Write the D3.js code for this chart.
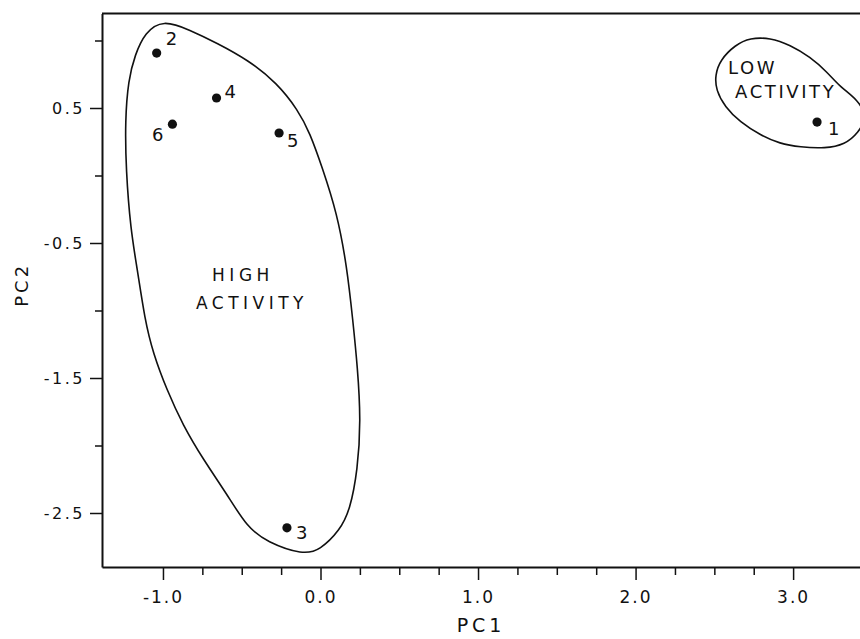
<!DOCTYPE html>
<html>
<head>
<meta charset="utf-8">
<script src="https://cdn.jsdelivr.net/npm/d3@7"></script>
<style>
    body { margin: 0; background: #fff; }
    text { font-family: "DejaVu Sans", sans-serif; fill: #111; }
</style>
</head>
<body>
<div id="chart"></div>
<script>
// sample scores on the first two principal components
var sample_ids = [1, 2, 3, 4, 5, 6];
var pc1_values = [3.152, -1.04, -0.213, -0.66, -0.263, -0.94];
var pc2_values = [0.396, 0.907, -2.61, 0.574, 0.315, 0.38];

var x_ticks = d3.range(-1, 3.001, 0.25);
var y_ticks = [1.0, 0.5, 0.0, -0.5, -1.0, -1.5, -2.0, -2.5];
var x_labelled = [-1, 0, 1, 2, 3];
var y_labelled = [0.5, -0.5, -1.5, -2.5];

// hand drawn group outlines, in PC units
var high_outline = [
    [-1.0, 1.155], [-0.829, 1.078], [-0.657, 0.981], [-0.46, 0.856], [-0.276, 0.685],
    [-0.143, 0.485], [-0.067, 0.315], [0.01, 0.063], [0.105, -0.278], [0.168, -0.678],
    [0.205, -1.07], [0.235, -1.42], [0.256, -1.811], [0.236, -2.181], [0.187, -2.478],
    [0.124, -2.626], [-0.003, -2.775], [-0.111, -2.81], [-0.34, -2.715], [-0.467, -2.604],
    [-0.594, -2.36], [-0.746, -2.1], [-0.873, -1.85], [-0.975, -1.59], [-1.063, -1.315],
    [-1.115, -1.07], [-1.165, -0.678], [-1.205, -0.404], [-1.235, 0.041], [-1.24, 0.411],
    [-1.22, 0.707], [-1.178, 0.893], [-1.114, 1.06]
];
var low_outline = [
    [2.505, 0.744], [2.537, 0.856], [2.632, 0.967], [2.727, 1.02], [2.854, 1.02],
    [2.981, 0.967], [3.108, 0.878], [3.216, 0.767], [3.298, 0.656], [3.413, 0.559],
    [3.47, 0.433], [3.413, 0.315], [3.33, 0.23], [3.203, 0.2], [3.044, 0.21],
    [2.917, 0.235], [2.79, 0.3], [2.663, 0.396], [2.568, 0.507], [2.51, 0.633]
];

var group_names = [["HIGH", "ACTIVITY"], ["LOW", "ACTIVITY"]];
var group_anchor = [[-0.435, -0.78], [2.587, 0.752]];

// label placement next to each dot, pixels
var label_offset = {
    1: { dx: 11, dy: 13, anchor: "start" },
    2: { dx: 9, dy: -8, anchor: "start" },
    3: { dx: 9, dy: 11, anchor: "start" },
    4: { dx: 8, dy: 0, anchor: "start" },
    5: { dx: 8, dy: 14, anchor: "start" },
    6: { dx: -9, dy: 17, anchor: "end" }
};

function draw_chart() {
    var width = 860;
    var height = 639;

    var x_scale = d3.scaleLinear()
        .domain([-1.387, 3.45])
        .range([102, 864]);
    var y_scale = d3.scaleLinear()
        .domain([-2.9, 1.2])
        .range([567, 13.5]);

    var fmt = function (d) { return d3.format(".1f")(d).replace("\u2212", "-"); };

    var svg = d3.select("#chart")
        .append("svg")
        .attr("width", width)
        .attr("height", height);

    // top frame line
    svg.append("line")
        .attr("x1", x_scale.range()[0])
        .attr("x2", x_scale.range()[1])
        .attr("y1", y_scale.range()[1])
        .attr("y2", y_scale.range()[1])
        .attr("stroke", "#111")
        .attr("stroke-width", 2);

    var x_axis = svg.append("g")
        .attr("transform", "translate(0," + y_scale.range()[0] + ")")
        .call(d3.axisBottom(x_scale)
            .tickValues(x_ticks)
            .tickSize(13)
            .tickSizeOuter(0)
            .tickPadding(11)
            .tickFormat(function (d) { return x_labelled.indexOf(d) >= 0 ? fmt(d) : ""; }));
    x_axis.selectAll(".tick")
        .filter(function (d) { return x_labelled.indexOf(d) < 0; })
        .select("line").attr("y2", 8);
    x_axis.selectAll(".tick text")
        .style("font-size", "17px")
        .style("letter-spacing", "2px")
        .style("font-family", "DejaVu Sans");

    var y_axis = svg.append("g")
        .attr("transform", "translate(" + x_scale.range()[0] + ",0)")
        .call(d3.axisLeft(y_scale)
            .tickValues(y_ticks)
            .tickSize(12)
            .tickSizeOuter(0)
            .tickPadding(5)
            .tickFormat(function (d) { return y_labelled.indexOf(d) >= 0 ? fmt(d) : ""; }));
    y_axis.selectAll(".tick")
        .filter(function (d) { return y_labelled.indexOf(d) < 0; })
        .select("line").attr("x2", -7);
    y_axis.selectAll(".tick text")
        .style("font-size", "16px")
        .style("letter-spacing", "2.5px")
        .style("font-family", "DejaVu Sans");

    svg.selectAll(".domain").attr("stroke", "#111").attr("stroke-width", 2);
    svg.selectAll(".tick line").attr("stroke", "#111").attr("stroke-width", 1.5);

    // axis titles
    svg.append("text")
        .text("PC1")
        .attr("x", x_scale(1.0) + 3)
        .attr("y", 632)
        .attr("text-anchor", "middle")
        .style("font-size", "19px")
        .style("letter-spacing", "4px");
    svg.append("text")
        .text("PC2")
        .attr("transform", "translate(28," + y_scale(-0.81) + ") rotate(-90)")
        .attr("text-anchor", "middle")
        .style("font-size", "18px")
        .style("letter-spacing", "3px");

    // group outlines
    var outline = d3.line()
        .x(function (d) { return x_scale(d[0]); })
        .y(function (d) { return y_scale(d[1]); })
        .curve(d3.curveBasisClosed);
    svg.selectAll(".outline").data([high_outline, low_outline])
        .enter().append("path")
        .attr("class", "outline")
        .attr("d", outline)
        .attr("fill", "none")
        .attr("stroke", "#111")
        .attr("stroke-width", 1.6);

    // group names
    var name_style = [
        { size: 17, spacing: 4.5, anchor: "middle", indent: [-9, 0], gap: 28 },
        { size: 18, spacing: 2.6, anchor: "start", indent: [0, 7], gap: 24 }
    ];
    group_names.forEach(function (lines, gi) {
        var st = name_style[gi];
        lines.forEach(function (ln, li) {
            svg.append("text")
                .text(ln)
                .attr("x", x_scale(group_anchor[gi][0]) + st.indent[li])
                .attr("y", y_scale(group_anchor[gi][1]) + li * st.gap)
                .attr("text-anchor", st.anchor)
                .style("font-size", st.size + "px")
                .style("letter-spacing", st.spacing + "px");
        });
    });

    var points = sample_ids.map(function (id, i) {
        return { id: id, pc1: pc1_values[i], pc2: pc2_values[i] };
    });

    svg.selectAll(".dot").data(points)
        .enter().append("circle")
        .attr("class", "dot")
        .attr("cx", function (d) { return x_scale(d.pc1); })
        .attr("cy", function (d) { return y_scale(d.pc2); })
        .attr("r", 4.6)
        .attr("fill", "#111");

    svg.selectAll(".dot-label").data(points)
        .enter().append("text")
        .attr("class", "dot-label")
        .text(function (d) { return d.id; })
        .attr("x", function (d) { return x_scale(d.pc1) + label_offset[d.id].dx; })
        .attr("y", function (d) { return y_scale(d.pc2) + label_offset[d.id].dy; })
        .attr("text-anchor", function (d) { return label_offset[d.id].anchor; })
        .style("font-size", "18px");
}

draw_chart();
</script>
</body>
</html>
